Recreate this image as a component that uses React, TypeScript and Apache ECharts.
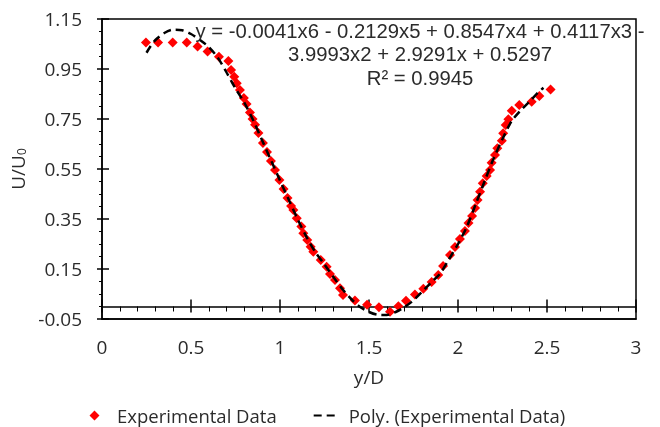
import React, { useEffect, useRef } from "react";
import * as echarts from "echarts";

const expX = [0.247, 0.315, 0.397, 0.476, 0.537, 0.593, 0.657, 0.71, 0.725, 0.743, 0.757, 0.775, 0.797, 0.812, 0.831, 0.846, 0.86, 0.879, 0.904, 0.927, 0.949, 0.972, 0.997, 1.02, 1.042, 1.062, 1.075, 1.094, 1.12, 1.131, 1.153, 1.172, 1.187, 1.229, 1.262, 1.281, 1.309, 1.337, 1.354, 1.421, 1.489, 1.556, 1.618, 1.665, 1.708, 1.758, 1.805, 1.852, 1.889, 1.916, 1.955, 1.983, 2.011, 2.039, 2.059, 2.079, 2.096, 2.11, 2.124, 2.139, 2.161, 2.18, 2.189, 2.208, 2.221, 2.246, 2.254, 2.268, 2.283, 2.302, 2.344, 2.414, 2.457, 2.52];
const expY = [1.056, 1.056, 1.056, 1.056, 1.04, 1.02, 0.999, 0.982, 0.946, 0.919, 0.893, 0.866, 0.834, 0.81, 0.776, 0.75, 0.727, 0.694, 0.654, 0.618, 0.582, 0.546, 0.506, 0.47, 0.434, 0.402, 0.386, 0.353, 0.32, 0.293, 0.266, 0.239, 0.219, 0.186, 0.159, 0.13, 0.106, 0.073, 0.046, 0.024, 0.007, -0.003, -0.021, 0.001, 0.023, 0.048, 0.071, 0.098, 0.126, 0.162, 0.206, 0.238, 0.27, 0.302, 0.334, 0.362, 0.394, 0.426, 0.459, 0.493, 0.522, 0.546, 0.575, 0.606, 0.633, 0.663, 0.693, 0.726, 0.749, 0.783, 0.806, 0.819, 0.842, 0.868];

const polyX = [0.25, 0.27, 0.3, 0.35, 0.4, 0.45, 0.5, 0.55, 0.6, 0.65, 0.7, 0.75, 0.8, 0.85, 0.9, 0.95, 1.0, 1.05, 1.1, 1.15, 1.2, 1.25, 1.3, 1.35, 1.4, 1.45, 1.5, 1.55, 1.6, 1.65, 1.7, 1.75, 1.8, 1.85, 1.9, 1.95, 2.0, 2.05, 2.1, 2.15, 2.2, 2.25, 2.3, 2.35, 2.4, 2.45, 2.48];
const polyY = [1.015, 1.038, 1.066, 1.094, 1.107, 1.105, 1.09, 1.066, 1.038, 0.996, 0.936, 0.872, 0.815, 0.744, 0.664, 0.584, 0.504, 0.426, 0.348, 0.277, 0.216, 0.168, 0.118, 0.07, 0.03, -0.002, -0.022, -0.033, -0.034, -0.022, -0.002, 0.025, 0.06, 0.097, 0.132, 0.19, 0.25, 0.32, 0.41, 0.502, 0.592, 0.67, 0.74, 0.783, 0.818, 0.856, 0.875];

const equationLines = [
  "y = -0.0041x6 - 0.2129x5 + 0.8547x4 + 0.4117x3 -",
  "3.9993x2 + 2.9291x + 0.5297",
  "R² = 0.9945",
];

const seriesNames = ["Experimental Data", "Poly. (Experimental Data)"];

const FONT = '"Open Sans", sans-serif';
const EQ_FONT = '"Liberation Sans", Arial, sans-serif';
const TXT = "#2b2b2b";
const LINE = "#000000";

export default function App() {
  const ref = useRef<HTMLDivElement>(null);
  useEffect(() => {
    if (!ref.current) return;
    const chart = echarts.init(ref.current, null, { renderer: "svg" });
    const expData = expX.map((x, i) => [x, expY[i]]);
    const polyData = polyX.map((x, i) => [x, polyY[i]]);
    const xBase = { type: "value", min: 0, max: 3, interval: 0.5, splitLine: { show: false } };
    const yBase = { type: "value", min: -0.05, max: 1.15, interval: 0.2, splitLine: { show: false } };
    chart.setOption({
      animation: false,
      grid: { left: 102, right: 24, top: 19, bottom: 108, show: true, borderColor: LINE, borderWidth: 1.5, backgroundColor: "transparent" },
      xAxis: [
        {
          ...xBase,
          position: "bottom",
          axisLine: { show: true, onZero: false, lineStyle: { color: LINE, width: 1.5 } },
          axisTick: { show: false },
          axisLabel: { margin: 18, fontFamily: FONT, fontSize: 19, color: TXT },
          name: "y/D",
          nameLocation: "middle",
          nameGap: 48,
          nameTextStyle: { fontFamily: FONT, fontSize: 19, color: TXT },
        },
        {
          ...xBase,
          position: "bottom",
          axisLine: { show: true, onZero: true, onZeroAxisIndex: 0, lineStyle: { color: LINE, width: 1.5 } },
          axisTick: { show: true, length: 6, lineStyle: { color: LINE, width: 1.5 } },
          minorTick: { show: true, splitNumber: 5, length: 5, lineStyle: { color: LINE, width: 1 } },
          axisLabel: { show: false },
        },
        {
          ...xBase,
          position: "bottom",
          axisLine: { show: false, onZero: true, onZeroAxisIndex: 0 },
          axisTick: { show: true, inside: true, length: 7, lineStyle: { color: LINE, width: 1.5 } },
          axisLabel: { show: false },
        },
      ],
      yAxis: [
        {
          ...yBase,
          position: "left",
          axisLine: { show: true, onZero: false, lineStyle: { color: LINE, width: 1.5 } },
          axisTick: { show: true, length: 5, lineStyle: { color: LINE, width: 1.5 } },
          minorTick: { show: true, splitNumber: 4, length: 3, lineStyle: { color: LINE, width: 1 } },
          axisLabel: { margin: 20, fontFamily: FONT, fontSize: 19, color: TXT },
          name: "U/U{sub|0}",
          nameLocation: "middle",
          nameGap: 68,
          nameTextStyle: {
            fontFamily: FONT,
            fontSize: 19,
            color: TXT,
            padding: [0, 0, 0, 0],
            rich: { sub: { fontFamily: FONT, fontSize: 12, color: TXT, verticalAlign: "bottom", padding: [6, 0, 0, 0] } },
          },
        },
        {
          ...yBase,
          position: "left",
          axisLine: { show: false, onZero: false },
          axisTick: { show: true, inside: true, length: 7, lineStyle: { color: LINE, width: 1.5 } },
          axisLabel: { show: false },
        },
      ],
      legend: {
        left: 82,
        top: 406,
        padding: 0,
        itemGap: 36,
        itemWidth: 25,
        itemHeight: 10,
        textStyle: { fontFamily: FONT, fontSize: 18.5, color: TXT, padding: [0, 0, 0, 5] },
        data: [
          { name: seriesNames[0], icon: "path://M0,5L0.01,5L0,5.01Z M25,5L24.99,5L25,5.01Z M7.5,5L12.5,0L17.5,5L12.5,10Z" },
          { name: seriesNames[1], itemStyle: { opacity: 0 } },
        ],
      },
      graphic: [
        {
          type: "text",
          x: 420,
          y: 19,
          z: 10,
          style: {
            text: equationLines.join("\n"),
            align: "center",
            verticalAlign: "top",
            fontFamily: EQ_FONT,
            fontSize: 20.3,
            lineHeight: 23.5,
            fill: TXT,
          },
        },
      ],
      series: [
        {
          name: seriesNames[0],
          type: "scatter",
          xAxisIndex: 0,
          yAxisIndex: 0,
          symbol: "diamond",
          symbolSize: 10,
          itemStyle: { color: "#ff0000", opacity: 1 },
          data: expData,
        },
        {
          name: seriesNames[1],
          type: "line",
          xAxisIndex: 0,
          yAxisIndex: 0,
          smooth: 0.3,
          symbol: "none",
          showSymbol: false,
          itemStyle: { color: "#000000" },
          lineStyle: { color: "#000000", width: 2.5, type: [8, 5] },
          data: polyData,
        },
      ],
    });
    return () => chart.dispose();
  }, []);
  return <div ref={ref} style={{ position: "fixed", left: 0, top: 0, width: 660, height: 427 }} />;
}
